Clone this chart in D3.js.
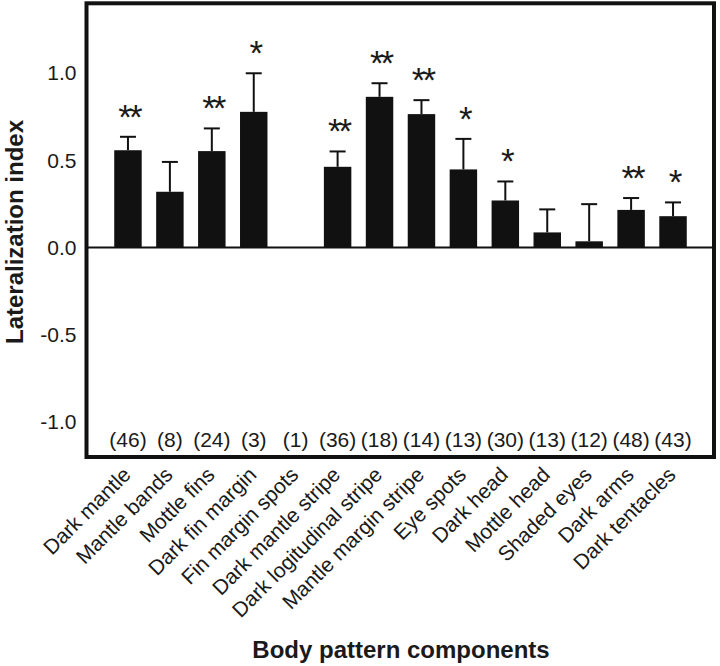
<!DOCTYPE html>
<html>
<head>
<meta charset="utf-8">
<script src="https://cdn.jsdelivr.net/npm/d3@7"></script>
<style>
  html, body { margin: 0; padding: 0; background: #fff; }
  svg { display: block; }
  text { font-family: "Liberation Sans", Arial, sans-serif; fill: #1a1a1a; }
</style>
</head>
<body>
<svg id="chart" width="720" height="666"></svg>
<script>
const categories = ["Dark mantle", "Mantle bands", "Mottle fins", "Dark fin margin", "Fin margin spots",
  "Dark mantle stripe", "Dark logitudinal stripe", "Mantle margin stripe", "Eye spots", "Dark head",
  "Mottle head", "Shaded eyes", "Dark arms", "Dark tentacles"];
const values = [0.558, 0.320, 0.553, 0.778, null, 0.463, 0.864, 0.765, 0.448, 0.270, 0.087, 0.036, 0.216, 0.180];
const errors = [0.077, 0.171, 0.130, 0.221, null, 0.088, 0.078, 0.080, 0.175, 0.109, 0.132, 0.213, 0.068, 0.079];
const stars = ["**", "", "**", "*", "", "**", "**", "**", "*", "*", "", "", "**", "*"];
const nCounts = [46, 8, 24, 3, 1, 36, 18, 14, 13, 30, 13, 12, 48, 43];
const yTicks = [-1.0, -0.5, 0.0, 0.5, 1.0];
const yTitle = "Lateralization index";
const xTitle = "Body pattern components";

const svg = d3.select("#chart");
const frame = { left: 86.5, right: 714, top: 3.3, bottom: 457 };
const FONT = "Liberation Sans, Arial, sans-serif";

const x = d3.scaleBand().domain(categories).range([107, 694]).paddingInner(0.345).paddingOuter(0.1725);
const y = d3.scaleLinear().domain([-1.2, 1.4]).range([frame.bottom, frame.top]);

const data = categories.map((c, i) => ({ c, v: values[i], e: errors[i], s: stars[i], n: nCounts[i] }));
const withBars = data.filter(d => d.v !== null);
const cx = d => x(d.c) + x.bandwidth() / 2;

// zero line
svg.append("line")
  .attr("x1", frame.left).attr("x2", frame.right)
  .attr("y1", y(0)).attr("y2", y(0))
  .attr("stroke", "#111").attr("stroke-width", 2);

// error bars
const eb = svg.append("g");
eb.selectAll("line.v").data(withBars).join("line")
  .attr("x1", cx).attr("x2", cx)
  .attr("y1", d => y(d.v)).attr("y2", d => y(d.v + d.e))
  .attr("stroke", "#111").attr("stroke-width", 2);
eb.selectAll("line.cap").data(withBars).join("line")
  .attr("x1", d => cx(d) - 8).attr("x2", d => cx(d) + 8)
  .attr("y1", d => y(d.v + d.e)).attr("y2", d => y(d.v + d.e))
  .attr("stroke", "#111").attr("stroke-width", 2);

// bars
svg.append("g").selectAll("rect").data(withBars).join("rect")
  .attr("x", d => x(d.c)).attr("width", x.bandwidth())
  .attr("y", d => y(d.v)).attr("height", d => y(0) - y(d.v))
  .attr("fill", "#111");

// significance stars
svg.append("g").selectAll("text").data(withBars.filter(d => d.s)).join("text")
  .attr("x", d => cx(d) + 1)
  .attr("y", d => y(d.v + d.e) - 8)
  .attr("text-anchor", "middle")
  .attr("font-size", 35)
  .attr("letter-spacing", -3)
  .text(d => d.s);

// n labels
svg.append("g").selectAll("text").data(data).join("text")
  .attr("x", cx)
  .attr("y", 447)
  .attr("text-anchor", "middle")
  .attr("font-size", 21)
  .text(d => "(" + d.n + ")");

// y axis
const yAxis = svg.append("g").attr("transform", `translate(${frame.left},0)`)
  .call(d3.axisLeft(y).tickValues(yTicks).tickSize(0).tickPadding(10)
    .tickFormat(d => d3.format(".1f")(d).replace("\u2212", "-")));
yAxis.select(".domain").remove();
yAxis.selectAll("text").attr("font-size", 21).attr("font-family", FONT).attr("fill", "#1a1a1a");

// x axis
const xAxis = svg.append("g").attr("transform", `translate(0,${frame.bottom})`)
  .call(d3.axisBottom(x).tickSize(0));
xAxis.select(".domain").remove();
xAxis.selectAll("text")
  .attr("font-size", 21).attr("font-family", FONT).attr("fill", "#1a1a1a")
  .attr("text-anchor", "end")
  .attr("x", 0).attr("y", 0).attr("dy", 0)
  .attr("transform", "translate(4,19) rotate(-45)");

// frame
svg.append("rect")
  .attr("x", frame.left).attr("y", frame.top)
  .attr("width", frame.right - frame.left).attr("height", frame.bottom - frame.top)
  .attr("fill", "none").attr("stroke", "#111").attr("stroke-width", 4);

// titles
svg.append("text")
  .attr("transform", "translate(23,232) rotate(-90)")
  .attr("text-anchor", "middle").attr("font-size", 24).attr("font-weight", "bold")
  .text(yTitle);
svg.append("text")
  .attr("x", 401).attr("y", 658)
  .attr("text-anchor", "middle").attr("font-size", 24).attr("font-weight", "bold")
  .text(xTitle);
</script>
</body>
</html>
